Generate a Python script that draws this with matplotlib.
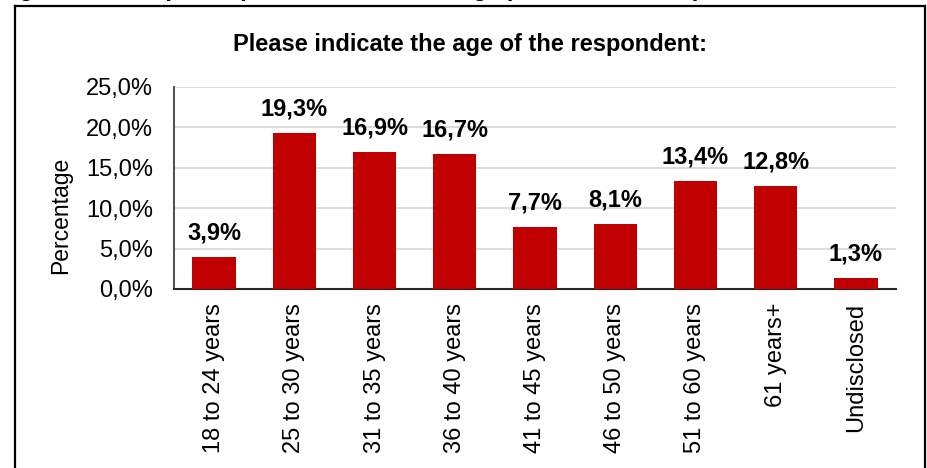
import matplotlib

matplotlib.use("Agg")
import matplotlib.pyplot as plt
from matplotlib.lines import Line2D
from matplotlib.ticker import FuncFormatter

plt.rcParams["font.family"] = ["Liberation Sans", "DejaVu Sans"]

# data
categories = [
    "18 to 24 years", "25 to 30 years", "31 to 35 years", "36 to 40 years",
    "41 to 45 years", "46 to 50 years", "51 to 60 years", "61 years+", "Undisclosed",
]
percent = [3.9, 19.3, 16.9, 16.7, 7.7, 8.1, 13.4, 12.8, 1.3]
y_ticks = [0, 5, 10, 15, 20, 25]

BAR_RED = "#C00000"
W, H = 928, 468

fig = plt.figure(figsize=(W / 100, H / 100), dpi=100)
ax = fig.add_axes([174 / W, 1 - 289 / H, (896 - 174) / W, (289 - 87) / H])

x = range(len(categories))
ax.bar(x, percent, width=0.54, color=BAR_RED, zorder=3)
for xi, v in zip(x, percent):
    ax.annotate(f"{v:.1f}%".replace(".", ","), (xi, v), xytext=(0, 9),
                textcoords="offset points", ha="center", va="bottom",
                fontsize=17, fontweight="bold", color="black")

ax.set_xlim(-0.5, len(categories) - 0.5)
ax.set_ylim(0, 25)
ax.set_yticks(y_ticks)
ax.yaxis.set_major_formatter(FuncFormatter(lambda v, _: f"{v:.1f}%".replace(".", ",")))
ax.set_xticks(list(x), categories, rotation=90)
ax.tick_params(axis="y", length=0, pad=15, labelsize=17)
ax.tick_params(axis="x", length=0, pad=10, labelsize=17)
ax.set_ylabel("Percentage", fontsize=16.5)
# the reference puts the axis title a bit below the middle of the axis
ax.yaxis.set_label_coords((72 - 174) / 722, (289 - 215) / 202)

ax.grid(axis="y", color="#d9d9d9", linewidth=1.3, zorder=0)
for side in ("top", "right"):
    ax.spines[side].set_visible(False)
ax.spines["left"].set_color("#404040")
ax.spines["left"].set_linewidth(1.3)
ax.spines["bottom"].set_color("#262626")
ax.spines["bottom"].set_linewidth(1.5)

fig.text(470 / W, 1 - 51 / H, "Please indicate the age of the respondent:",
         ha="center", va="baseline", fontsize=17, fontweight="bold")

# caption of the document, cut off by the top edge (only descenders show)
fig.text(-2 / W, 1 + 4 / H, "Figure 4.3: Graphical presentation of the age profile of the respondents",
         ha="left", va="baseline", fontsize=17, fontweight="bold")

# outer frame around the chart (open at the bottom)
fx0, fx1, fy = 15 / W, 925 / W, 1 - 6 / H
for xs, ys in (([fx0, fx0], [0, fy]), ([fx0, fx1], [fy, fy]), ([fx1, fx1], [fy, 0])):
    fig.add_artist(Line2D(xs, ys, color="black", linewidth=1.6, transform=fig.transFigure))

fig.savefig("out.png", dpi=100)
